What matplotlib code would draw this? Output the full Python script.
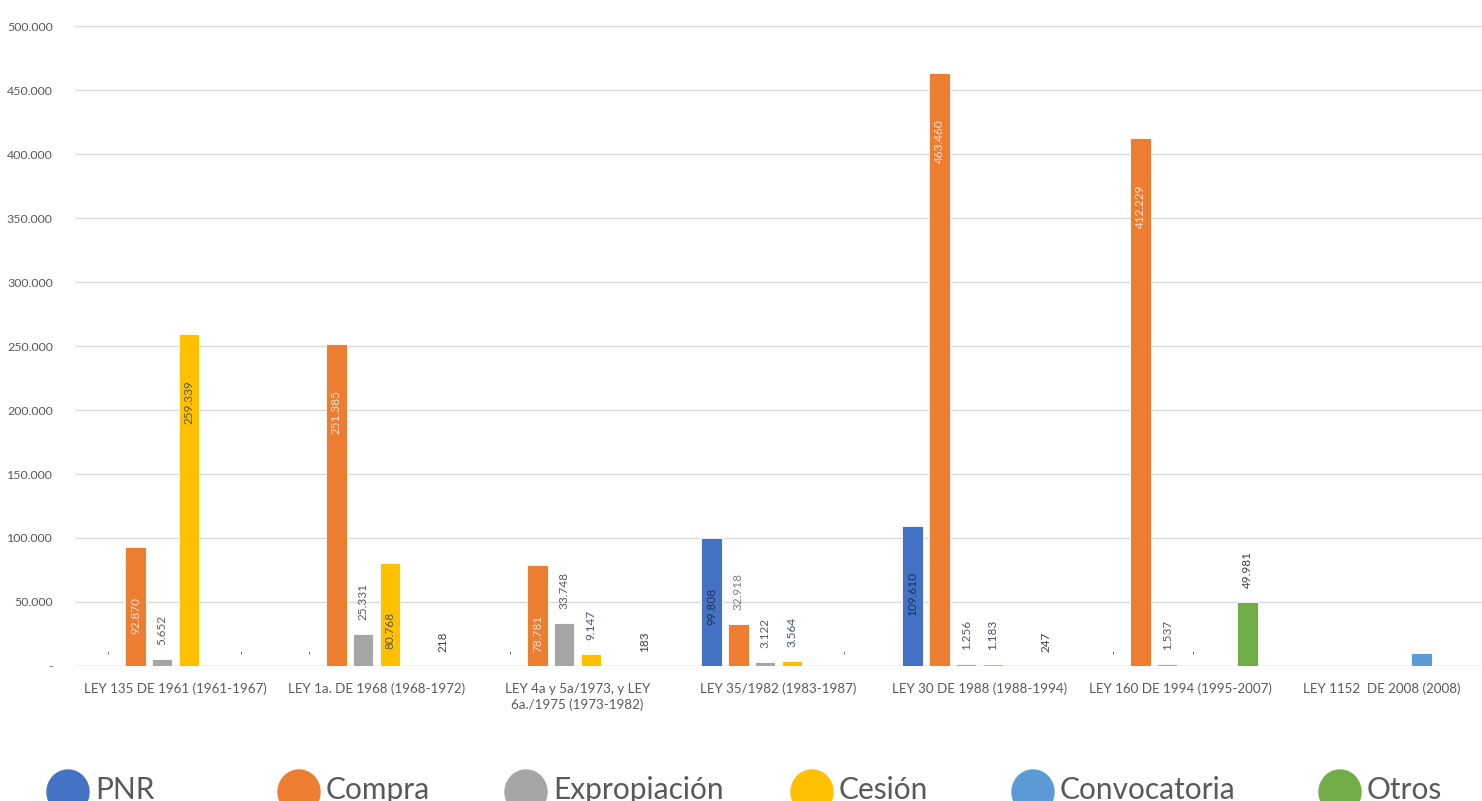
import numpy as np
import matplotlib.pyplot as plt
from matplotlib.patches import Ellipse
from matplotlib.ticker import FuncFormatter, MultipleLocator

categories = [
    'LEY 135 DE 1961 (1961-1967)',
    'LEY 1a. DE 1968 (1968-1972)',
    'LEY 4a y 5a/1973, y LEY\n6a./1975 (1973-1982)',
    'LEY 35/1982 (1983-1987)',
    'LEY 30 DE 1988 (1988-1994)',
    'LEY 160 DE 1994 (1995-2007)',
    'LEY 1152  DE 2008 (2008)',
]
nan = np.nan
pnr = [0, 0, 0, 99808, 109610, 0, nan]
compra = [92870, 251385, 78781, 32918, 463460, 412229, nan]
expropiacion = [5652, 25331, 33748, 3122, 1256, 1537, nan]
cesion = [259339, 80768, 9147, 3564, 1183, 0, nan]
convocatoria = [nan, nan, nan, nan, nan, nan, 10100]
otros = [0, 218, 183, 0, 247, 49981, nan]

series = ['PNR', 'Compra', 'Expropiación', 'Cesión', 'Convocatoria', 'Otros']
values = [pnr, compra, expropiacion, cesion, convocatoria, otros]
colors = ['#4472C4', '#ED7D31', '#A5A5A5', '#FFC000', '#5B9BD5', '#70AD47']
# label colours: (inside the bar, above the bar)
label_colors = [('#1F2F55', '#404040'), ('#FBE3D2', '#7F7F7F'),
                ('#404040', '#595959'), ('#595959', '#44546A'),
                ('#404040', '#404040'), ('#404040', '#404040')]
show_labels = [True, True, True, True, False, True]

plt.rcParams['font.family'] = ['Lato', 'DejaVu Sans']

W, H = 1482, 801
fig = plt.figure(figsize=(W / 100, H / 100), dpi=100)
ax = fig.add_axes([75 / W, 135 / H, (W - 75) / W, 640 / H])

x = np.arange(len(categories))
step = 0.133
width = 0.102


def fmt(v):
    return f'{v:,.0f}'.replace(',', '.')


px = 500000 / 640  # data units per pixel
for i, (name, vals, col) in enumerate(zip(series, values, colors)):
    pos = x + (i - 2.5) * step
    vals = np.array(vals, dtype=float)
    ax.bar(pos, np.nan_to_num(vals), width, color=col, edgecolor='white',
           linewidth=0.6, zorder=3)
    if not show_labels[i]:
        continue
    inner, outer = label_colors[i]
    for p, v in zip(pos, vals):
        if np.isnan(v):
            continue
        if v == 0:
            ax.text(p, 14 * px, '-', rotation=90, ha='center', va='center',
                    fontsize=7, color='#404040')
        elif v > 60000:
            ax.text(p, v - 68 * px, fmt(v), rotation=90, ha='center',
                    va='center', fontsize=8.5, color=inner, zorder=4)
        else:
            ax.text(p, v + 14 * px, fmt(v), rotation=90, ha='center',
                    va='bottom', fontsize=8.5, color=outer, zorder=4)

ax.set_xlim(-0.5, len(categories) - 0.5)
ax.set_ylim(0, 500000)
ax.yaxis.set_major_locator(MultipleLocator(50000))
ax.yaxis.set_major_formatter(FuncFormatter(lambda v, _: '-' if v == 0 else fmt(v)))
ax.grid(axis='y', color='#D9D9D9', linewidth=1, zorder=0)
ax.set_xticks(x)
ax.set_xticklabels(categories, linespacing=1.35)
ax.tick_params(axis='y', length=0, pad=16, labelsize=8.9, labelcolor='#595959')
ax.tick_params(axis='x', length=0, pad=12, labelsize=9.6, labelcolor='#595959')
for s in ax.spines.values():
    s.set_visible(False)
ax.axhline(0, color='#D9D9D9', linewidth=1, zorder=2)

# legend row along the bottom edge
legend_x = [68, 299, 526, 812, 1033, 1340]
for lx, name, col in zip(legend_x, series, colors):
    fig.patches.append(Ellipse((lx / W, (H - 792) / H), 42 / W, 44 / H,
                               transform=fig.transFigure, color=col))
    fig.text((lx + 27) / W, (H - 799) / H, name, fontsize=21.5,
             color='#595959', ha='left', va='baseline')

fig.savefig('out.png', dpi=100)
